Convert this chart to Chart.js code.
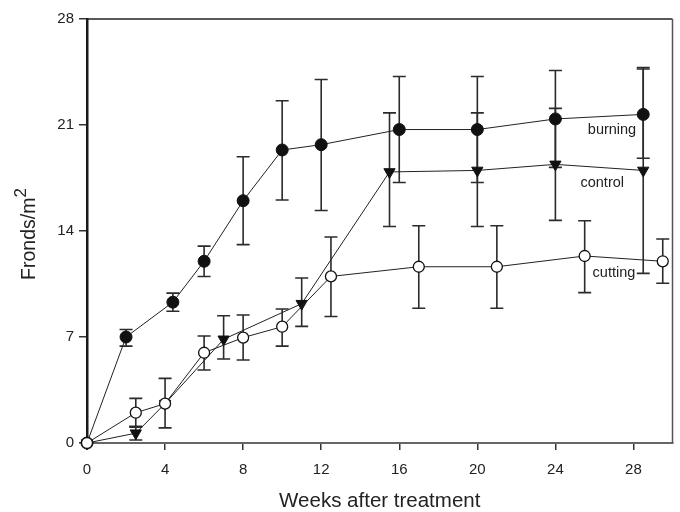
<!DOCTYPE html>
<html>
<head>
<meta charset="utf-8">
<script src="https://cdn.jsdelivr.net/npm/chart.js@4/dist/chart.umd.min.js"></script>
<style>
  html, body { margin: 0; padding: 0; background: #ffffff; }
  #wrap { width: 680px; height: 512px; }
</style>
</head>
<body>
<div id="wrap"><canvas id="c" width="680" height="512"></canvas></div>
<script>
// ---- data ----
const xTicks = [0, 4, 8, 12, 16, 20, 24, 28];
const yTicks = [0, 7, 14, 21, 28];

const burningWeeks = [0, 2, 4.4, 6, 8, 10, 12, 16, 20, 24, 28.5];
const burningMean  = [0, 7.0, 9.3, 12.0, 16.0, 19.35, 19.7, 20.7, 20.7, 21.4, 21.7];
const burningLow   = [null, 6.4, 8.7, 11.0, 13.1, 16.05, 15.35, 17.2, 17.2, 18.2, 18.8];
const burningHigh  = [null, 7.5, 9.9, 13.0, 18.9, 22.6, 24.0, 24.2, 24.2, 24.6, 24.7];

const controlWeeks = [0, 2.5, 4, 7, 11, 15.5, 20, 24, 28.5];
const controlMean  = [0, 0.65, 2.6, 6.85, 9.2, 17.9, 18.0, 18.4, 18.0];
const controlLow   = [null, 0.2, null, 5.55, 7.7, 14.3, 14.3, 14.7, 11.2];
const controlHigh  = [null, 1.1, null, 8.4, 10.9, 21.8, 21.8, 22.1, 24.8];

const cuttingWeeks = [0, 2.5, 4, 6, 8, 10, 12.5, 17, 21, 25.5, 29.5];
const cuttingMean  = [0, 2.0, 2.6, 5.96, 6.96, 7.68, 11.0, 11.64, 11.64, 12.35, 12.0];
const cuttingLow   = [null, 1.05, 1.0, 4.82, 5.48, 6.4, 8.35, 8.9, 8.9, 9.93, 10.55];
const cuttingHigh  = [null, 2.95, 4.27, 7.07, 8.45, 8.85, 13.6, 14.35, 14.35, 14.68, 13.47];

const seriesNames = ['burning', 'control', 'cutting'];
const xTitle = 'Weeks after treatment';
const yTitle = 'Fronds/m';
const ySup = '2';

const FONT = "'Liberation Sans', Arial, Helvetica, sans-serif";

function pts(xs, ys) { return xs.map((x, i) => ({ x: x, y: ys[i] })); }

// error bars drawn through the chart's own scales
const errorBarPlugin = {
  id: 'errorBars',
  beforeDatasetsDraw(chart) {
    const ctx = chart.ctx;
    const xs = chart.scales.x, ys = chart.scales.y;
    ctx.save();
    chart.data.datasets.forEach(ds => {
      ctx.strokeStyle = '#2b2b2b';
      ctx.lineWidth = 1.6;
      ds.data.forEach((p, i) => {
        const lo = ds.errLow[i], hi = ds.errHigh[i];
        if (lo == null || hi == null) return;
        const px = xs.getPixelForValue(p.x);
        const pl = ys.getPixelForValue(lo);
        const ph = ys.getPixelForValue(hi);
        const cap = 6.5;
        ctx.beginPath();
        ctx.moveTo(px, pl); ctx.lineTo(px, ph);
        ctx.moveTo(px - cap, pl); ctx.lineTo(px + cap, pl);
        ctx.moveTo(px - cap, ph); ctx.lineTo(px + cap, ph);
        ctx.stroke();
      });
    });
    ctx.restore();
  }
};

// frame box + y title + series labels
const decorPlugin = {
  id: 'decor',
  beforeDatasetsDraw(chart) {
    const ctx = chart.ctx;
    const a = chart.chartArea;
    ctx.save();
    ctx.strokeStyle = '#222';
    ctx.lineWidth = 1.5;
    ctx.beginPath();
    ctx.moveTo(a.left, a.top); ctx.lineTo(a.right, a.top);
    ctx.stroke();
    ctx.strokeStyle = '#555';
    ctx.beginPath();
    ctx.moveTo(a.right, a.top); ctx.lineTo(a.right, a.bottom);
    ctx.stroke();
    ctx.restore();
  },
  afterDraw(chart, args, opts) {
    const ctx = chart.ctx;
    const xs = chart.scales.x, ys = chart.scales.y;
    ctx.save();
    // y title with superscript
    ctx.fillStyle = '#222';
    ctx.translate(30, 234);
    ctx.rotate(-Math.PI / 2);
    ctx.font = '19.5px ' + FONT;
    const w1 = ctx.measureText(yTitle).width;
    ctx.font = '17px ' + FONT;
    const w2 = ctx.measureText(ySup).width;
    const total = w1 + w2;
    ctx.textBaseline = 'middle';
    ctx.textAlign = 'left';
    ctx.font = '19.5px ' + FONT;
    ctx.fillText(yTitle, -total / 2, 0);
    ctx.font = '17px ' + FONT;
    ctx.fillText(ySup, -total / 2 + w1, -9);
    ctx.setTransform(1, 0, 0, 1, 0, 0);

    // series labels, anchored in data space
    ctx.font = '14.5px ' + FONT;
    ctx.textAlign = 'center';
    ctx.textBaseline = 'middle';
    ctx.fillStyle = '#222';
    opts.labels.forEach(l => {
      ctx.fillText(l.text, xs.getPixelForValue(l.x), ys.getPixelForValue(l.y));
    });
    ctx.restore();
  }
};

new Chart(document.getElementById('c'), {
  type: 'scatter',
  data: {
    datasets: [
      {
        label: seriesNames[2],
        data: pts(cuttingWeeks, cuttingMean),
        errLow: cuttingLow, errHigh: cuttingHigh,
        showLine: true, borderColor: '#222', borderWidth: 1,
        pointStyle: 'circle', pointRadius: 5.5,
        pointBackgroundColor: '#ffffff', pointBorderColor: '#111', pointBorderWidth: 1.3,
        clip: false, order: 0
      },
      {
        label: seriesNames[1],
        data: pts(controlWeeks, controlMean),
        errLow: controlLow, errHigh: controlHigh,
        showLine: true, borderColor: '#222', borderWidth: 1,
        pointStyle: 'triangle', pointRotation: 180, pointRadius: 6.5,
        pointBackgroundColor: '#111', pointBorderColor: '#111', pointBorderWidth: 1,
        clip: false, order: 1
      },
      {
        label: seriesNames[0],
        data: pts(burningWeeks, burningMean),
        errLow: burningLow, errHigh: burningHigh,
        showLine: true, borderColor: '#222', borderWidth: 1,
        pointStyle: 'circle', pointRadius: 6,
        pointBackgroundColor: '#111', pointBorderColor: '#111', pointBorderWidth: 1,
        clip: false, order: 2
      }
    ]
  },
  options: {
    responsive: false,
    animation: false,
    events: [],
    layout: { padding: { left: 0, right: 4, top: 19, bottom: 0 } },
    plugins: {
      legend: { display: false },
      tooltip: { enabled: false },
      decor: {
        labels: [
          { text: seriesNames[0], x: 26.9, y: 20.7 },
          { text: seriesNames[1], x: 26.4, y: 17.2 },
          { text: seriesNames[2], x: 27.0, y: 11.2 }
        ]
      }
    },
    scales: {
      x: {
        type: 'linear',
        min: 0, max: 30,
        afterBuildTicks: s => { s.ticks = xTicks.map(v => ({ value: v })); },
        afterFit: s => { s.height = 69; },
        border: { display: true, color: '#666', width: 2 },
        grid: { drawOnChartArea: false, drawTicks: true, tickLength: 7, color: '#333', lineWidth: 1.5 },
        ticks: { color: '#222', font: { family: FONT, size: 15 }, padding: 11, maxRotation: 0 },
        title: { display: true, text: xTitle, color: '#222', font: { family: FONT, size: 20.5, lineHeight: 1 }, padding: { top: 0, bottom: 0 } }
      },
      y: {
        type: 'linear',
        min: 0, max: 28,
        afterBuildTicks: s => { s.ticks = yTicks.map(v => ({ value: v })); },
        afterFit: s => { s.width = 87; },
        border: { display: true, color: '#1a1a1a', width: 2.5 },
        grid: { drawOnChartArea: false, drawTicks: true, tickLength: 8, color: '#333', lineWidth: 1.5 },
        ticks: { color: '#222', font: { family: FONT, size: 15 }, padding: 5 }
      }
    }
  },
  plugins: [errorBarPlugin, decorPlugin]
});
</script>
</body>
</html>
